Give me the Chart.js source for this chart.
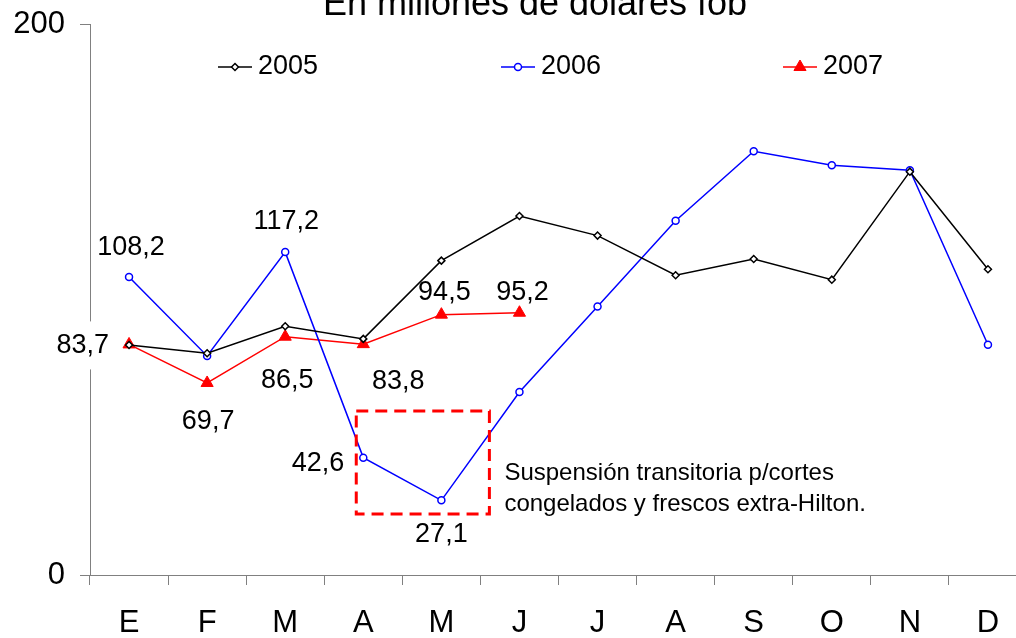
<!DOCTYPE html>
<html>
<head>
<meta charset="utf-8">
<script src="https://cdn.jsdelivr.net/npm/chart.js@4/dist/chart.umd.min.js"></script>
<style>
  html, body { margin: 0; padding: 0; background: #fff; overflow: hidden; width: 1016px; height: 638px; }
  #wrap { position: absolute; left: 0; top: -20px; width: 1040px; height: 658px; }
</style>
</head>
<body>
<div id="wrap"><canvas id="chart"></canvas></div>
<script>
// --- data ---
const months = ['E', 'F', 'M', 'A', 'M', 'J', 'J', 'A', 'S', 'O', 'N', 'D'];
const years = ['2005', '2006', '2007'];
const exp2005 = [83.5, 80.5, 90.3, 85.7, 114.1, 130.3, 123.2, 108.8, 114.7, 107.2, 146.4, 111.0];
const exp2006 = [108.2, 79.5, 117.2, 42.6, 27.1, 66.4, 97.5, 128.6, 153.8, 148.7, 146.9, 83.6];
const exp2007 = [83.7, 69.7, 86.5, 83.8, 94.5, 95.2];
const yTicks = [0, 200];
const titleText = 'En millones de dólares fob';
const noteLines = ['Suspensión transitoria p/cortes', 'congelados y frescos extra-Hilton.'];

const FONT = '"Liberation Sans", Arial, sans-serif';
const colors = ['#000000', '#0000ff', '#ff0000'];

// which values get a number printed next to them (dataset, index, offset from point)
const valueLabels = [
  { ds: 2, i: 0, dx: -20, dy: 1, align: 'right', bg: true },
  { ds: 2, i: 1, dx: 1, dy: 39, align: 'center' },
  { ds: 2, i: 2, dx: 2, dy: 44, align: 'center' },
  { ds: 2, i: 3, dx: 35, dy: 37, align: 'center' },
  { ds: 2, i: 4, dx: 3, dy: -22, align: 'center' },
  { ds: 2, i: 5, dx: 3, dy: -20, align: 'center' },
  { ds: 1, i: 0, dx: 2, dy: -29, align: 'center' },
  { ds: 1, i: 2, dx: 1, dy: -31, align: 'center' },
  { ds: 1, i: 3, dx: -19, dy: 6, align: 'right' },
  { ds: 1, i: 4, dx: 0, dy: 34, align: 'center' }
];

// dashed box around the drop (category index / value units)
const box = { x0: 2.91, x1: 4.615, y0: 22.1, y1: 59.5 };

const extras = {
  id: 'extras',
  afterDatasetsDraw(chart) {
    const ctx = chart.ctx;
    const xs = chart.scales.x, ys = chart.scales.y;
    const area = chart.chartArea;
    ctx.save();

    // title (cut off by the top edge, as in the original)
    ctx.font = '36px ' + FONT;
    ctx.textAlign = 'center';
    ctx.textBaseline = 'alphabetic';
    ctx.fillStyle = '#000';
    ctx.fillText(titleText, area.left + 445, area.top - 9);

    // value labels
    ctx.font = '27px ' + FONT;
    ctx.textBaseline = 'middle';
    valueLabels.forEach(l => {
      const pt = chart.getDatasetMeta(l.ds).data[l.i];
      const v = chart.data.datasets[l.ds].data[l.i];
      const txt = v.toFixed(1).replace('.', ',');
      const x = pt.x + l.dx, y = pt.y + l.dy;
      ctx.textAlign = l.align;
      if (l.bg) {
        const w = ctx.measureText(txt).width;
        const left = l.align === 'right' ? x - w : (l.align === 'center' ? x - w / 2 : x);
        ctx.fillStyle = '#fff';
        ctx.fillRect(left - 6, y - 24, w + 12, 48);
      }
      ctx.fillStyle = '#000';
      ctx.fillText(txt, x, y);
    });

    // dashed box
    const bx0 = xs.getPixelForValue(box.x0), bx1 = xs.getPixelForValue(box.x1);
    const by0 = ys.getPixelForValue(box.y1), by1 = ys.getPixelForValue(box.y0);
    ctx.strokeStyle = '#ff0000';
    ctx.lineWidth = 3;
    ctx.setLineDash([12, 7]);
    ctx.strokeRect(bx0, by0, bx1 - bx0, by1 - by0);
    ctx.setLineDash([]);

    // note
    ctx.font = '24px ' + FONT;
    ctx.textAlign = 'left';
    ctx.fillStyle = '#000';
    ctx.fillText(noteLines[0], bx1 + 15, by0 + 62);
    ctx.fillText(noteLines[1], bx1 + 15, by0 + 93);

    // legend
    const legX = [area.left + 128, area.left + 411, area.left + 693];
    const legY = area.top + 43;
    ctx.font = '27px ' + FONT;
    years.forEach((yr, k) => {
      const x = legX[k];
      ctx.strokeStyle = colors[k];
      ctx.lineWidth = 1.5;
      ctx.beginPath();
      ctx.moveTo(x, legY);
      ctx.lineTo(x + 34, legY);
      ctx.stroke();
      const ds = chart.data.datasets[k];
      ctx.lineWidth = ds.pointBorderWidth;
      ctx.fillStyle = ds.pointBackgroundColor;
      const cx = x + 17;
      ctx.beginPath();
      if (ds.pointStyle === 'circle') {
        ctx.arc(cx, legY, ds.pointRadius, 0, Math.PI * 2);
      } else if (ds.pointStyle === 'rectRot') {
        const r = ds.pointRadius;
        ctx.moveTo(cx, legY - r); ctx.lineTo(cx + r, legY);
        ctx.lineTo(cx, legY + r); ctx.lineTo(cx - r, legY); ctx.closePath();
      } else {
        const r = ds.pointRadius;
        ctx.moveTo(cx, legY - r); ctx.lineTo(cx + r * 0.866, legY + r / 2);
        ctx.lineTo(cx - r * 0.866, legY + r / 2); ctx.closePath();
      }
      ctx.fill();
      ctx.stroke();
      ctx.fillStyle = '#000';
      ctx.textAlign = 'left';
      ctx.fillText(yr, x + 40, legY);
    });
    ctx.restore();
  }
};

new Chart(document.getElementById('chart'), {
  type: 'line',
  data: {
    labels: months,
    datasets: [
      { label: years[0], data: exp2005, borderColor: colors[0], borderWidth: 1.5,
        pointStyle: 'rectRot', pointRadius: 3.5, pointBorderWidth: 1.5,
        pointBackgroundColor: '#fff', pointBorderColor: colors[0] },
      { label: years[1], data: exp2006, borderColor: colors[1], borderWidth: 1.5,
        pointStyle: 'circle', pointRadius: 3.5, pointBorderWidth: 1.5,
        pointBackgroundColor: '#fff', pointBorderColor: colors[1] },
      { label: years[2], data: exp2007, borderColor: colors[2], borderWidth: 1.5,
        pointStyle: 'triangle', pointRadius: 7, pointBorderWidth: 1,
        pointBackgroundColor: colors[2], pointBorderColor: colors[2] }
    ]
  },
  options: {
    responsive: true,
    maintainAspectRatio: false,
    animation: false,
    layout: { padding: { left: 0, right: 13, top: 44, bottom: 0 } },
    plugins: {
      legend: { display: false },
      tooltip: { enabled: false },
      title: { display: false }
    },
    scales: {
      x: {
        offset: true,
        afterFit: s => { s.height = 63; },
        grid: { offset: true, drawOnChartArea: false, tickLength: 10, color: '#808080' },
        border: { color: '#808080' },
        ticks: { color: '#000', font: { size: 31, family: FONT }, padding: 20, maxRotation: 0, autoSkip: false }
      },
      y: {
        min: yTicks[0], max: yTicks[yTicks.length - 1],
        afterBuildTicks: s => { s.ticks = yTicks.map(v => ({ value: v })); },
        afterFit: s => { s.width = 90; },
        grid: { drawOnChartArea: false, tickLength: 10, color: '#808080' },
        border: { color: '#808080' },
        ticks: { color: '#000', font: { size: 31, family: FONT }, padding: 15 }
      }
    }
  },
  plugins: [extras]
});
</script>
</body>
</html>
